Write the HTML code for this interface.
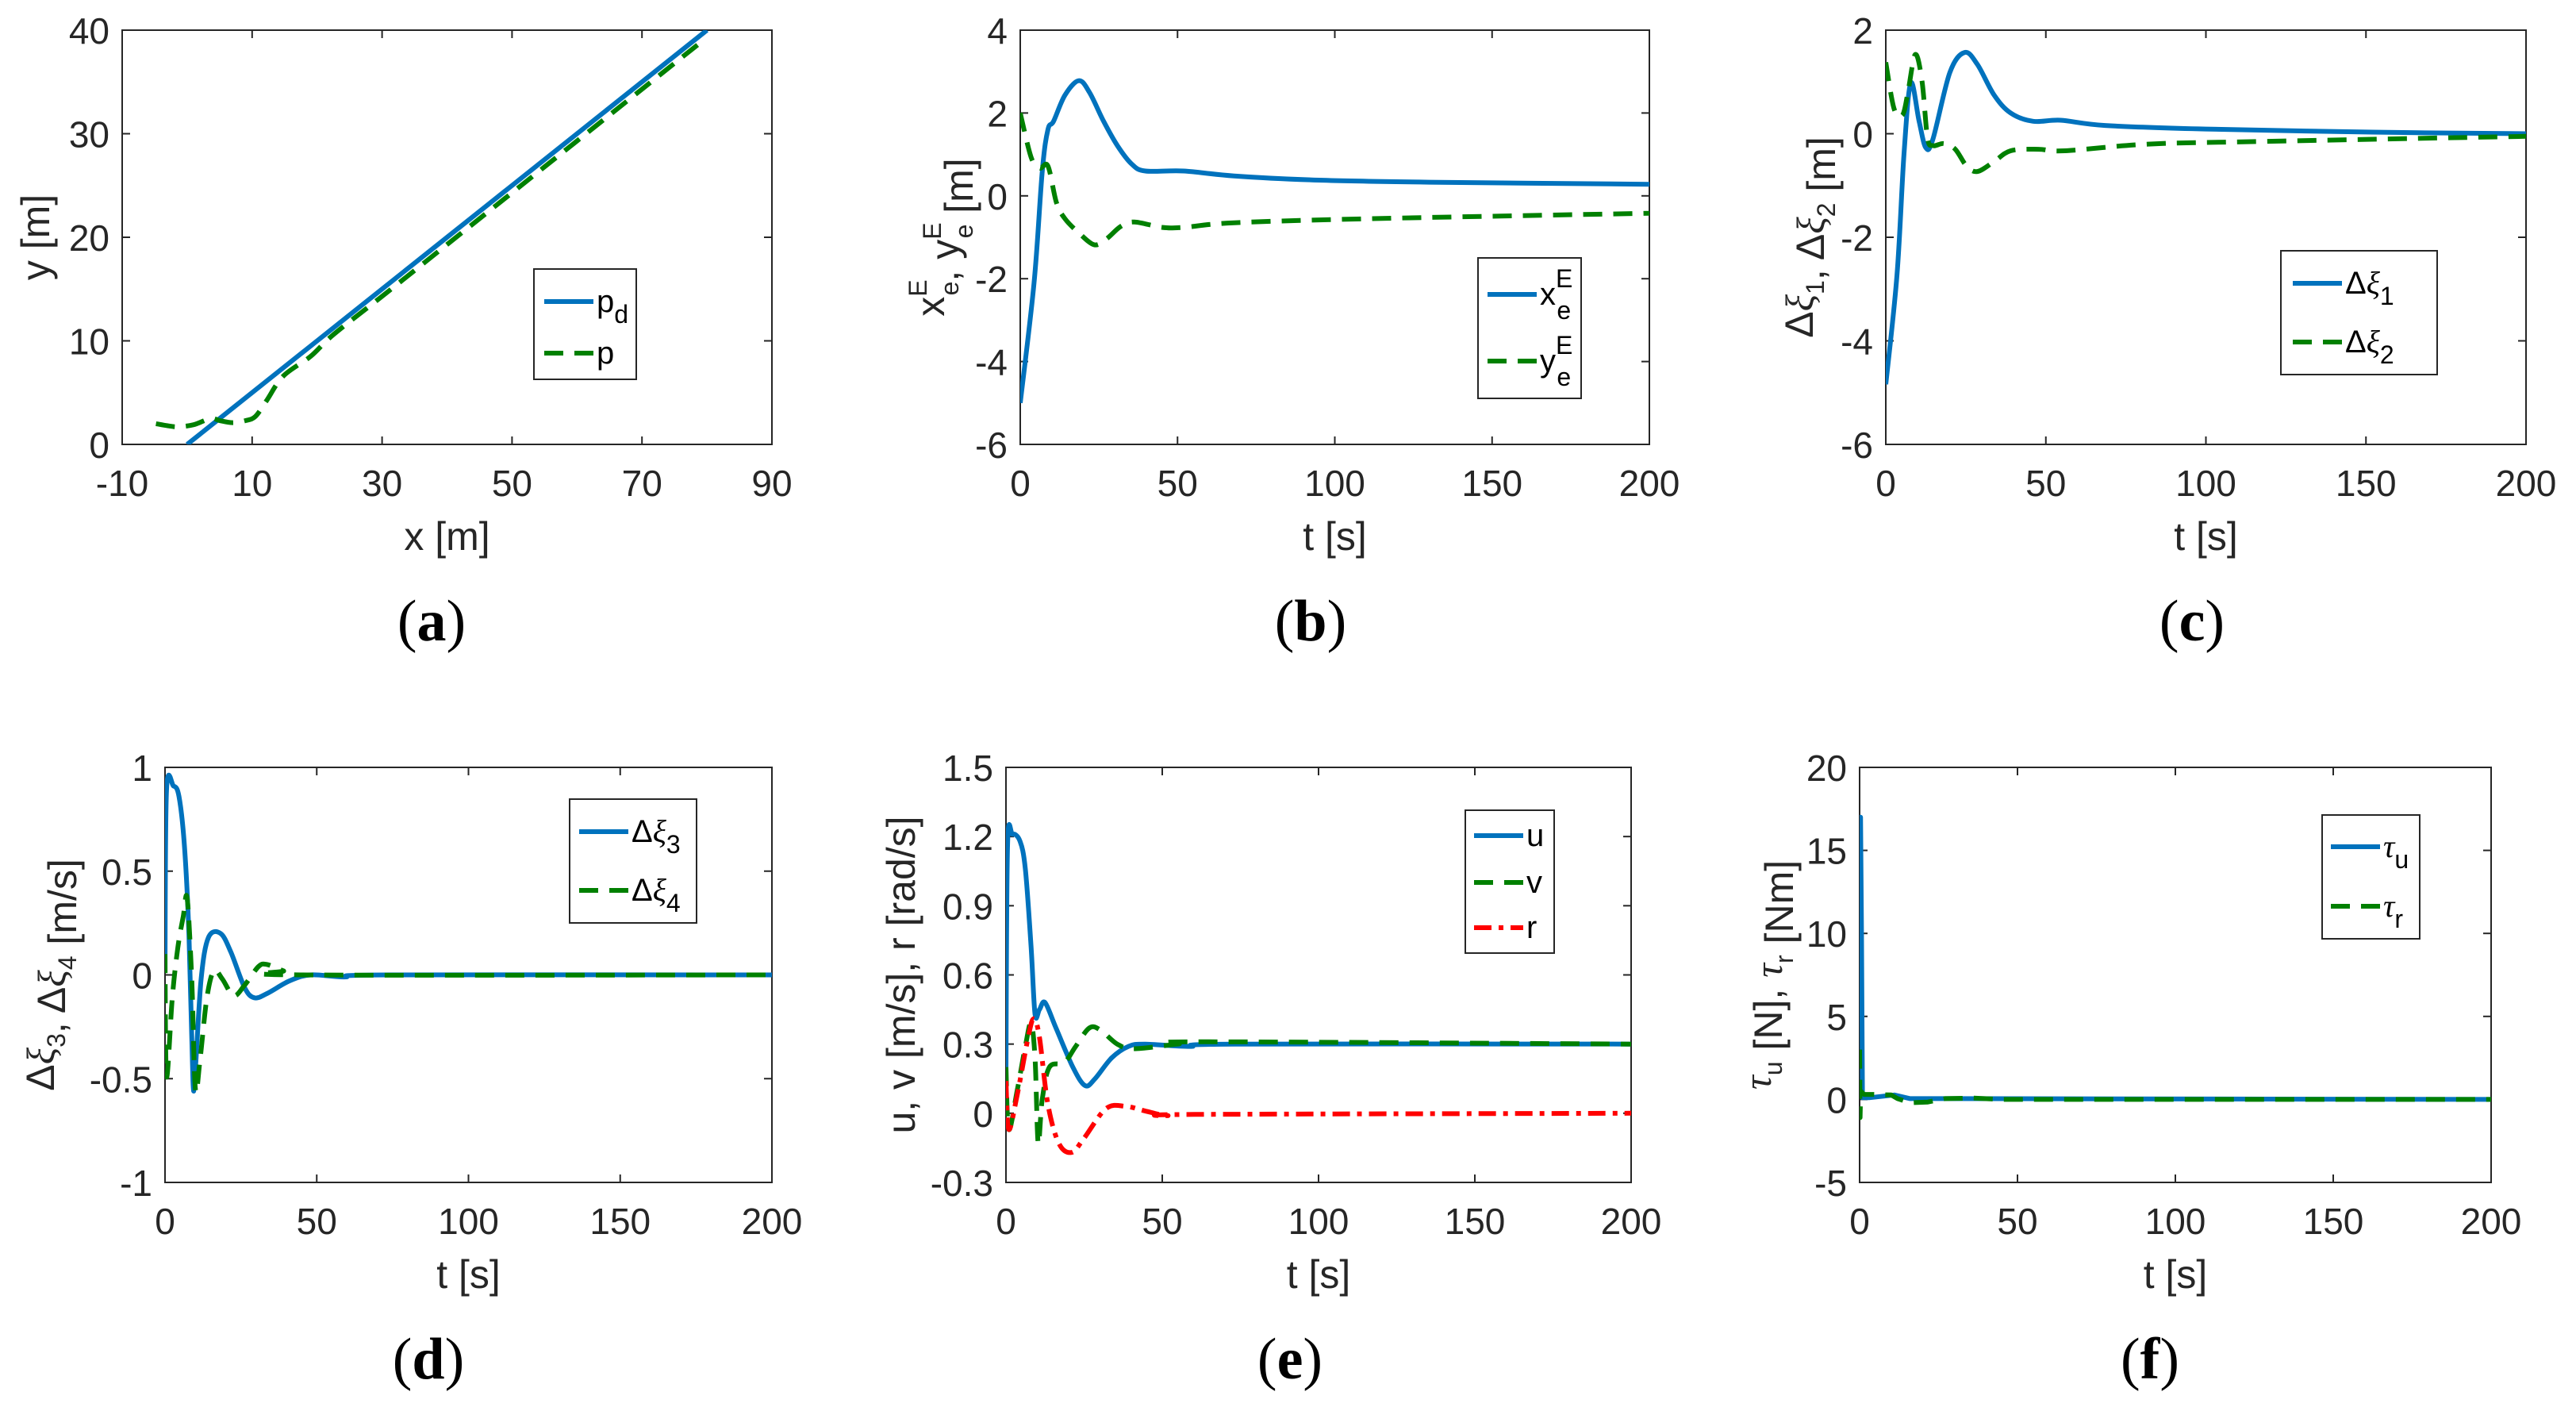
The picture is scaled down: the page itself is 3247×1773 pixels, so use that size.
<!DOCTYPE html>
<html><head><meta charset="utf-8"><style>
html,body{margin:0;padding:0;background:#fff;}
svg{display:block;}
text{font-family:"Liberation Sans",sans-serif;fill:#262626;}
.tick{font-size:46px;}
.lab{font-size:50px;}
.leg{font-size:40px;fill:#000;}
.cap{font-family:"Liberation Serif",serif;font-size:74px;fill:#000;}
.gk{font-family:"Liberation Serif",serif;font-style:italic;}
</style></head><body>
<svg id="fig" width="3247" height="1773" viewBox="0 0 3247 1773" xmlns="http://www.w3.org/2000/svg"></svg>
<script>
// ---- data (a) ----
const aPdX=[0,80];
const aPdY=[0,40];
const aPX=[-4.8,-3,-1.4,1,3.6,5,7,9,10.5,12.2,14.8,19,22.5,30,40,50,60,70,79];
const aPY=[2.0,1.8,1.7,1.9,2.5,2.3,2.1,2.3,2.7,4.2,6.6,8.5,10.6,14.3,19.3,24.3,29.3,34.3,38.8];
// ---- data (b) ----
const bXeT=[0,4.4,7,8.8,10.6,14.2,18.6,22,26.5,31,35.4,39.8,52,68,95,130,200];
const bXeV=[-5.0,-2.1,0.6,1.6,1.8,2.43,2.78,2.5,1.8,1.2,0.77,0.6,0.6,0.48,0.38,0.33,0.28];
const bYeT=[0,3.5,6.2,8.8,11.5,14.2,18.6,23.5,27.4,31.9,36.3,45,52,68,112,200];
const bYeV=[2.0,0.92,0.67,0.72,-0.16,-0.55,-0.89,-1.18,-1.04,-0.74,-0.63,-0.76,-0.76,-0.65,-0.55,-0.42];
// ---- data (c) ----
const cX1T=[0,3.5,5.7,7.8,10.4,12.5,14.7,20,24.6,28.6,33.8,39,46,54.6,68.5,100,152,200];
const cX1V=[-4.84,-2.73,-0.38,0.98,0.24,-0.27,-0.11,1.18,1.57,1.34,0.75,0.4,0.24,0.26,0.16,0.09,0.03,0];
const cX2T=[0,2.6,5.2,6.9,9.2,11.3,13,14.7,18.2,21.7,25.2,28.6,33.8,39,47.7,56,82,117,200];
const cX2V=[1.38,0.48,0.36,0.79,1.53,1.02,-0.07,-0.23,-0.19,-0.3,-0.62,-0.73,-0.54,-0.33,-0.3,-0.33,-0.2,-0.15,-0.05];
// ---- data (d) ----
const dX3T=[0,0.5,2.8,4.6,6.4,7.9,9.2,10,11.9,14.3,18.3,21.7,26.2,29.4,33.6,40.9,48,59,74,200];
const dX3V=[0.02,0.89,0.91,0.86,0.62,0.19,-0.51,-0.45,-0.02,0.18,0.2,0.11,-0.06,-0.11,-0.09,-0.03,0,-0.01,0,0];
const dX4T=[0,0.5,2.4,4.2,6,7.3,8.8,10,11.6,13.8,16.1,18.9,22.6,26.2,30.8,33.6,39,44.6,200];
const dX4V=[0.1,-0.49,-0.11,0.13,0.28,0.37,-0.02,-0.55,-0.4,-0.11,0.02,-0.02,-0.1,-0.05,0.04,0.05,0.02,0,0];
// ---- data (e) ----
const eUT=[0,0.5,2.1,4.5,6.2,8,9.3,10.7,12.5,16,21.4,25.3,28.5,33.8,39.2,44.5,58.8,73,200];
const eUV=[0.16,1.16,1.21,1.18,1.06,0.73,0.43,0.45,0.48,0.37,0.2,0.12,0.15,0.24,0.29,0.3,0.29,0.3,0.3];
const eVT=[0,0.9,3.6,6.2,8,9.3,10.3,11.6,13.9,18.7,22.3,26.7,30.3,35.6,41,55,64,200];
const eVV=[0.2,-0.07,0.1,0.29,0.39,0.24,-0.13,0.06,0.2,0.22,0.29,0.37,0.36,0.3,0.28,0.3,0.31,0.3];
const eRT=[0,0.9,3.6,7.1,8.9,10.7,13.4,16.9,21,24.9,32,38.3,44.5,51.6,60.5,200];
const eRV=[0.14,-0.07,0.08,0.33,0.41,0.33,0.04,-0.13,-0.17,-0.11,0.02,0.03,0.01,-0.01,-0.005,0];
// ---- data (f) ----
const fTuT=[0,0.3,0.6,0.9,3,11,16,27,200];
const fTuV=[5,17,10,0.1,0.1,0.27,0.05,0.05,0];
const fTrT=[0,0.15,0.35,1.4,4,10,12,16,21.6,27,35.7,45,200];
const fTrV=[3,-1.1,0.5,0.3,0.3,0.27,0.05,-0.2,-0.16,0.05,0.08,0,0];
// ---- ticks ----
const aXTicks=[-10,10,30,50,70,90], aYTicks=[0,10,20,30,40];
const tTicks=[0,50,100,150,200];
const bYTicks=[-6,-4,-2,0,2,4], cYTicks=[-6,-4,-2,0,2];
const dYTicks=[-1,-0.5,0,0.5,1], dYLabels=['-1','-0.5','0','0.5','1'];
const eYTicks=[-0.3,0,0.3,0.6,0.9,1.2,1.5], eYLabels=['-0.3','0','0.3','0.6','0.9','1.2','1.5'];
const fYTicks=[-5,0,5,10,15,20];

const NS='http://www.w3.org/2000/svg';
const svg=document.getElementById('fig');
function mk(tag,attrs,parent){const e=document.createElementNS(NS,tag);for(const k in attrs)e.setAttribute(k,attrs[k]);(parent||svg).appendChild(e);return e;}
const BLUE='#0072BD',GREEN='#008000',RED='#FF0000';
const STY={solid:{c:BLUE,d:''},dash:{c:GREEN,d:'24 14'},dashdot:{c:RED,d:'22 9 6 9'}};

function smoothPath(P,smooth){
  let d='M'+P[0][0].toFixed(1)+','+P[0][1].toFixed(1);
  for(let i=0;i<P.length-1;i++){
    const p0=P[Math.max(0,i-1)],p1=P[i],p2=P[i+1],p3=P[Math.min(P.length-1,i+2)];
    if(!smooth){d+=' L'+p2[0].toFixed(1)+','+p2[1].toFixed(1);continue;}
    const k=1/6;
    const c1=[p1[0]+(p2[0]-p0[0])*k,p1[1]+(p2[1]-p0[1])*k];
    const c2=[p2[0]-(p3[0]-p1[0])*k,p2[1]-(p3[1]-p1[1])*k];
    d+=' C'+c1[0].toFixed(1)+','+c1[1].toFixed(1)+' '+c2[0].toFixed(1)+','+c2[1].toFixed(1)+' '+p2[0].toFixed(1)+','+p2[1].toFixed(1);
  }
  return d;
}

function panel(id,box,xr,yr,xt,yt,ytl,series,xlab,ylabHTML,ylabX,legend,cap,capX,smooth){
  const g=mk('g',{});
  
  
  const [L,T,R,B]=box;
  const sx=v=>L+(v-xr[0])/(xr[1]-xr[0])*(R-L);
  const sy=v=>B-(v-yr[0])/(yr[1]-yr[0])*(B-T);
  const cp=mk('clipPath',{id:'clip'+id},g);
  mk('rect',{x:L,y:T,width:R-L,height:B-T},cp);
  const frame=mk('rect',{x:L,y:T,width:R-L,height:B-T,fill:'#fff',stroke:'#262626','stroke-width':2},g);
  
  
  xt.forEach(v=>{const x=sx(v);
    mk('line',{x1:x,y1:B,x2:x,y2:B-10,stroke:'#262626','stroke-width':2},g);
    mk('line',{x1:x,y1:T,x2:x,y2:T+10,stroke:'#262626','stroke-width':2},g);
    const t=mk('text',{x:x,y:B+65,'text-anchor':'middle',class:'tick'},g);t.textContent=String(v);
    
    
  });
  yt.forEach((v,i)=>{const y=sy(v);
    mk('line',{x1:L,y1:y,x2:L+10,y2:y,stroke:'#262626','stroke-width':2},g);
    mk('line',{x1:R,y1:y,x2:R-10,y2:y,stroke:'#262626','stroke-width':2},g);
    const t=mk('text',{x:L-16,y:y+17,'text-anchor':'end',class:'tick'},g);t.textContent=ytl?ytl[i]:String(v);
    
    
  });
  series.forEach(s=>{
    const P=s.x.map((xv,i)=>[sx(xv),sy(s.y[i])]);
    const st=STY[s.style];
    const p=mk('path',{d:smoothPath(P,smooth),fill:'none',stroke:st.c,'stroke-width':6,'stroke-linejoin':'round','clip-path':'url(#clip'+id+')'},g);
    if(st.d)p.setAttribute('stroke-dasharray',st.d);
    
    
  });
  const xl=mk('text',{x:(L+R)/2,y:B+133,'text-anchor':'middle',class:'lab'},g);xl.textContent=xlab;
  
  
  const yg=mk('g',{transform:'translate('+ylabX+','+((T+B)/2)+') rotate(-90)'},g);
  
  
  yg.innerHTML='<text x="0" y="0" text-anchor="middle" class="lab">'+ylabHTML+'</text>';
  const lg=mk('g',{},g);
  
  
  const [lx0,ly0,lx1,ly1]=legend.box;
  mk('rect',{x:lx0,y:ly0,width:lx1-lx0,height:ly1-ly0,fill:'#fff',stroke:'#262626','stroke-width':2},lg);
  legend.items.forEach(it=>{
    const st=STY[it.style];
    const ln=mk('line',{x1:legend.lx,y1:it.y,x2:legend.lx+62,y2:it.y,stroke:st.c,'stroke-width':6},lg);
    if(st.d)ln.setAttribute('stroke-dasharray',st.d);
    const e=mk('g',{},lg);
    
    
    e.innerHTML='<text x="'+(legend.lx+66)+'" y="'+(it.y+13)+'" class="leg">'+it.html+'</text>';
  });
  const c=mk('text',{x:capX,y:B+247,'text-anchor':'middle',class:'cap'},g);
  c.innerHTML='(<tspan font-weight="bold">'+cap+'</tspan>)';
  
  
}
const sub=(s)=>'<tspan font-size="32" dy="14">'+s+'</tspan><tspan dy="-14"></tspan>';
const supsub=(a,b)=>'<tspan font-size="32" dy="-22">'+a+'</tspan><tspan font-size="32" dx="-20" dy="40">'+b+'</tspan><tspan dy="-18"></tspan>';
const xi='<tspan class="gk">ξ</tspan>', tau='<tspan class="gk">τ</tspan>';

panel('a',[154,38,973,560],[-10,90],[0,40],aXTicks,aYTicks,null,
  [{name:'pd',x:aPdX,y:aPdY,style:'solid'},{name:'p',x:aPX,y:aPY,style:'dash'}],
  'x [m]','y [m]',62,
  {box:[673,339,802,478],lx:686,items:[{style:'solid',y:380,html:'p'+sub('d')},{style:'dash',y:445,html:'p'}]},'a',544,true);
panel('b',[1286,38,2079,560],[0,200],[-6,4],tTicks,bYTicks,null,
  [{name:'xe',x:bXeT,y:bXeV,style:'solid'},{name:'ye',x:bYeT,y:bYeV,style:'dash'}],
  't [s]','x'+supsub('E','e')+', y'+supsub('E','e')+' [m]',1190,
  {box:[1863,325,1993,502],lx:1875,items:[{style:'solid',y:371,html:'x'+supsub('E','e')},{style:'dash',y:455,html:'y'+supsub('E','e')}]},'b',1652,true);
panel('c',[2377,38,3184,560],[0,200],[-6,2],tTicks,cYTicks,null,
  [{name:'dxi1',x:cX1T,y:cX1V,style:'solid'},{name:'dxi2',x:cX2T,y:cX2V,style:'dash'}],
  't [s]','Δ'+xi+sub('1')+',  Δ'+xi+sub('2')+' [m]',2285,
  {box:[2875,316,3072,472],lx:2890,items:[{style:'solid',y:357,html:'Δ'+xi+sub('1')},{style:'dash',y:431,html:'Δ'+xi+sub('2')}]},'c',2763,true);
panel('d',[208,967,973,1490],[0,200],[-1,1],tTicks,dYTicks,dYLabels,
  [{name:'dxi3',x:dX3T,y:dX3V,style:'solid'},{name:'dxi4',x:dX4T,y:dX4V,style:'dash'}],
  't [s]','Δ'+xi+sub('3')+',  Δ'+xi+sub('4')+' [m/s]',68,
  {box:[718,1007,878,1163],lx:730,items:[{style:'solid',y:1048,html:'Δ'+xi+sub('3')},{style:'dash',y:1122,html:'Δ'+xi+sub('4')}]},'d',540,true);
panel('e',[1268,967,2056,1490],[0,200],[-0.3,1.5],tTicks,eYTicks,eYLabels,
  [{name:'u',x:eUT,y:eUV,style:'solid'},{name:'v',x:eVT,y:eVV,style:'dash'},{name:'r',x:eRT,y:eRV,style:'dashdot'}],
  't [s]','u, v [m/s], r [rad/s]',1153,
  {box:[1847,1021,1959,1201],lx:1858,items:[{style:'solid',y:1053,html:'u'},{style:'dash',y:1112,html:'v'},{style:'dashdot',y:1169,html:'r'}]},'e',1626,true);
panel('f',[2344,967,3140,1490],[0,200],[-5,20],tTicks,fYTicks,null,
  [{name:'tau-u',x:fTuT,y:fTuV,style:'solid'},{name:'tau-r',x:fTrT,y:fTrV,style:'dash'}],
  't [s]',tau+sub('u')+' [N], '+tau+sub('r')+' [Nm]',2232,
  {box:[2927,1027,3050,1183],lx:2938,items:[{style:'solid',y:1067,html:tau+sub('u')},{style:'dash',y:1142,html:tau+sub('r')}]},'f',2710,false);
</script>
</body></html>
